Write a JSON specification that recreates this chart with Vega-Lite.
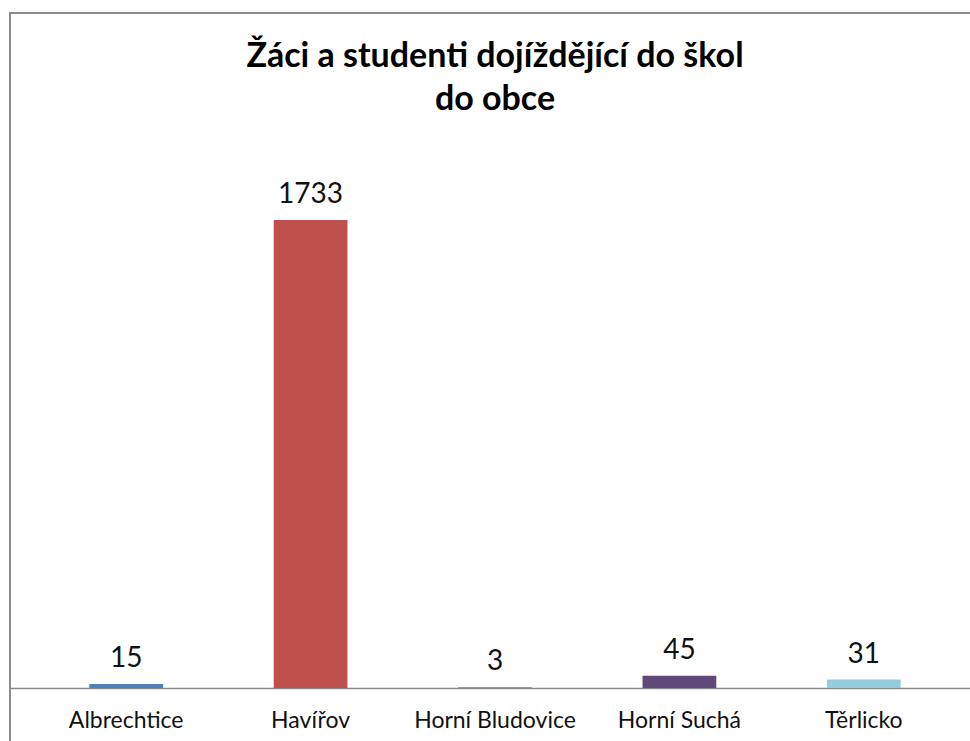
{
  "$schema": "https://vega.github.io/schema/vega-lite/v6.json",
  "autosize": "none",
  "width": 970,
  "height": 747,
  "padding": {"left": 10, "top": 13, "right": 0, "bottom": 0},
  "background": "white",
  "title": {
    "text": ["Žáci a studenti dojíždějící do škol", "do obce"],
    "font": "Lato",
    "fontSize": 34,
    "fontWeight": "bold",
    "color": "#000000",
    "lineHeight": 43,
    "anchor": "middle",
    "frame": "group",
    "baseline": "bottom",
    "offset": -138
  },
  "data": {
    "values": [
      {"obec": "Albrechtice", "pocet": 15},
      {"obec": "Havířov", "pocet": 1733},
      {"obec": "Horní Bludovice", "pocet": 3},
      {"obec": "Horní Suchá", "pocet": 45},
      {"obec": "Těrlicko", "pocet": 31}
    ]
  },
  "encoding": {
    "x": {
      "field": "obec",
      "type": "nominal",
      "sort": null,
      "scale": {"paddingInner": 0.6, "paddingOuter": 0.43},
      "axis": {
        "title": null,
        "orient": "bottom",
        "offset": -72,
        "labelAngle": 0,
        "labelFont": "Lato",
        "labelFontSize": 23,
        "labelColor": "#111111",
        "labelPadding": 21,
        "ticks": false,
        "domainColor": "#8a8a8a",
        "domainWidth": 1.5,
        "grid": false
      }
    },
    "y": {
      "field": "pocet",
      "type": "quantitative",
      "scale": {"domain": [-266.7, 2500], "zero": false, "nice": false},
      "axis": null
    }
  },
  "layer": [
    {
      "mark": {"type": "bar"},
      "encoding": {
        "color": {
          "field": "obec",
          "type": "nominal",
          "sort": null,
          "scale": {
            "domain": ["Albrechtice", "Havířov", "Horní Bludovice", "Horní Suchá", "Těrlicko"],
            "range": ["#4F81BD", "#C0504D", "#77933C", "#604A7B", "#93CDDD"]
          },
          "legend": null
        }
      }
    },
    {
      "mark": {"type": "text", "baseline": "bottom", "dy": -11, "font": "Lato", "fontSize": 28, "color": "#111111"},
      "encoding": {"text": {"field": "pocet", "type": "quantitative"}}
    }
  ],
  "config": {
    "view": {"stroke": "#8c8c8c", "strokeWidth": 2},
    "axis": {"grid": false}
  }
}
